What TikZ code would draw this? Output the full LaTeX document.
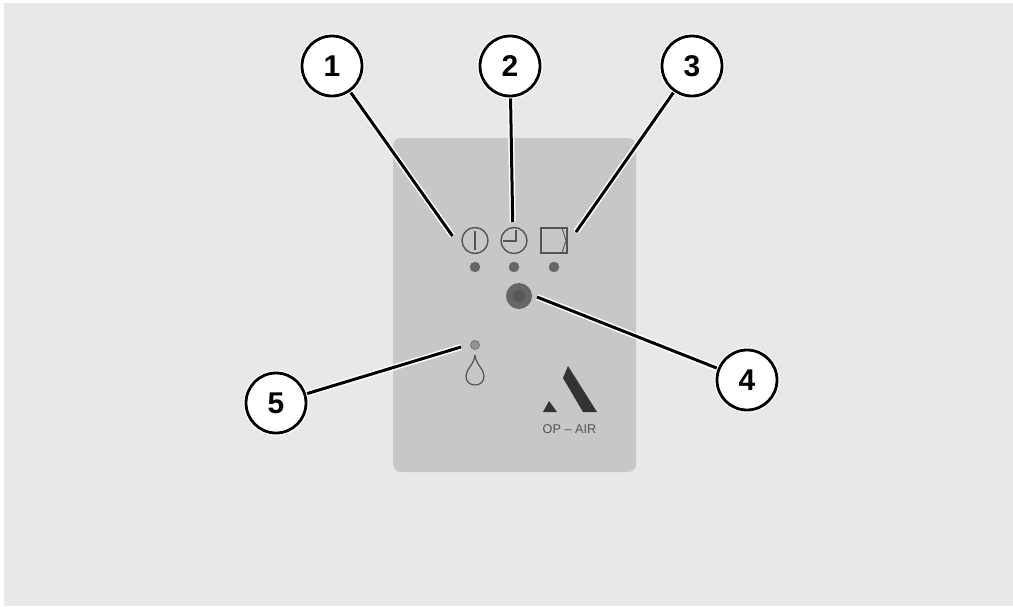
\documentclass[tikz,border=0pt]{standalone}
\usepackage{fontspec}
\setmainfont{Liberation Sans}
\definecolor{pagegray}{gray}{0.91}
\definecolor{panelgray}{gray}{0.78}
\definecolor{icongray}{gray}{0.33}
\definecolor{ledgray}{gray}{0.40}
\definecolor{logogray}{gray}{0.20}
\tikzset{
  callout/.style={circle,draw=black,line width=2.8pt,fill=white,minimum size=60pt,inner sep=0pt,font=\fontsize{30}{30}\selectfont\bfseries,preaction={draw=white,line width=5pt}},
  halo/.style={draw=white,line width=6pt},
  leader/.style={draw=black,line width=3pt},
  icon/.style={draw=icongray,line width=1.4pt},
  led/.style={circle,fill=ledgray,minimum size=10.5pt,inner sep=0pt}
}
\begin{document}
\begin{tikzpicture}[x=1pt,y=-1pt]
                \useasboundingbox (0,0) rectangle (1013,606);
                % Sfondo
                \fill[white] (0,0) rectangle (1013,606);
                \fill[pagegray] (4,3) rectangle (1013,606);
                % Pannello
                \fill[panelgray,rounded corners=8pt] (393,138) rectangle (636,472);

                % Simboli
                \draw[icon] (475,240.5) circle (13);
                \draw[icon] (475,231) -- (475,250);
                \draw[icon] (514,240.5) circle (13);
                \draw[icon] (503,241) -- (516,241) -- (516,230);
                \draw[icon] (541,228) rectangle (567,253);
                \draw[icon,line width=0.9pt] (562,228) -- (566,240.5) -- (562,253);
                \draw[icon,line width=1.2pt] (475,355) .. controls (474,365) and (466,369) .. (466,376) .. controls (466,382) and (470,385) .. (475,385) .. controls (480,385) and (484,382) .. (484,376) .. controls (484,369) and (476,365) .. (475,355);

                % Led
                \node[led] (ledon) at (475,267) {};
                \node[led] (ledtimer) at (514,267) {};
                \node[led] (ledfilter) at (554,267) {};
                \node[led,fill=gray!85,draw=ledgray,line width=0.6pt,minimum size=9pt] (ledwater) at (475,345) {};

                % Pulsante
                \node[circle,fill=ledgray,minimum size=26pt,inner sep=0pt] (button) at (519,296) {};
                \node[circle,fill=icongray!80!ledgray,minimum size=12pt,inner sep=0pt] (buttonin) at (519,296) {};

                % Logo
                \fill[logogray] (568,366) -- (563,378) -- (583,412) -- (597,412) -- cycle;
                \fill[logogray] (549,401) -- (543,412) -- (557,412) -- cycle;
                \node[text=icongray,font=\fontsize{12.7}{13}\selectfont] (brand) at (569.5,429) {OP -- AIR};

                % Richiami
                \coordinate (tip1) at (452.5,236);
                \coordinate (tip2) at (512.7,222);
                \coordinate (tip3) at (576,232);
                \coordinate (tip4) at (537,297);
                \coordinate (tip5) at (461,347);
                \node[callout] (call1) at (332,66) {1};
                \node[callout] (call2) at (510,66) {2};
                \node[callout] (call3) at (692,66) {3};
                \node[callout] (call4) at (747,380) {4};
                \node[callout] (call5) at (276,403) {5};
                \foreach \n in {1,...,5} {
                    \draw[halo] (call\n) -- (tip\n);
                    \draw[leader] (call\n) -- (tip\n);
                    \node[callout] at (call\n) {\n};
                }
\end{tikzpicture}
\end{document}
